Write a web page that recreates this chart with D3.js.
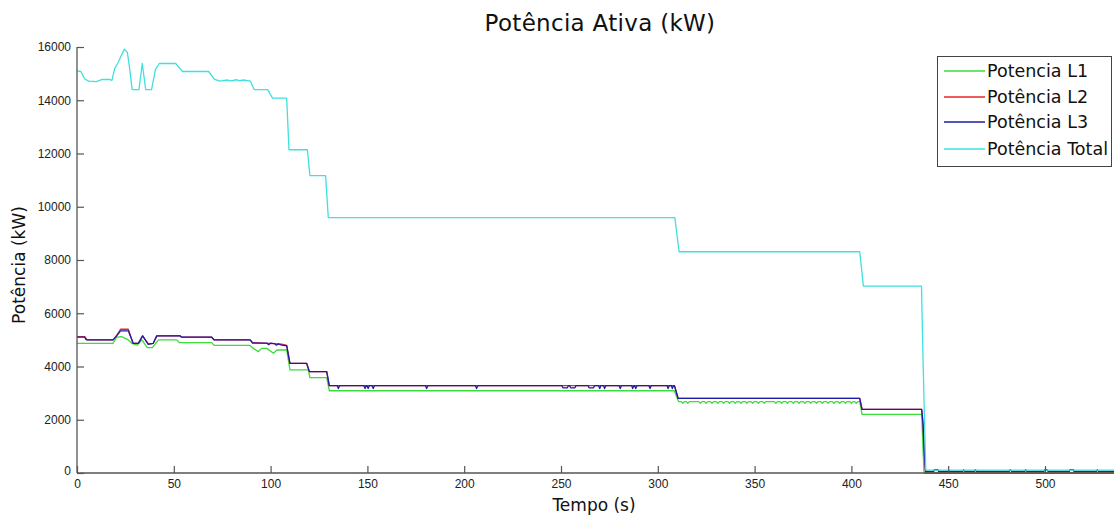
<!DOCTYPE html>
<html>
<head>
<meta charset="utf-8">
<script src="https://cdn.jsdelivr.net/npm/d3@7"></script>
<style>
  html, body { margin: 0; padding: 0; background: #fff; }
  svg { display: block; }
</style>
</head>
<body>
<svg id="chart" width="1114" height="516"></svg>
<script>
// ---------------- DATA (time s, power kW) ----------------
const xTicks = [0, 50, 100, 150, 200, 250, 300, 350, 400, 450, 500];
const yTicks = [0, 2000, 4000, 6000, 8000, 10000, 12000, 14000, 16000];
const seriesNames = ["Potencia L1", "Potência L2", "Potência L3", "Potência Total"];

const potTotal = [
  [0,15100],[2,15080],[4,14800],[6,14720],[10,14700],[13,14780],[17,14780],[18,14740],
  [19.5,15200],[21,15380],[23,15700],[24.5,15920],[26,15800],[27,15300],[28.5,14400],[32,14400],
  [33.7,15380],[35.5,14400],[38.5,14400],[40.5,15150],[42.5,15380],[51,15380],[54.5,15080],[68,15080],
  [71,14780],[74,14720],[77,14760],[80,14730],[82,14770],[84,14740],[86,14760],[89.5,14720],
  [91.5,14400],[98.5,14400],[101,14080],[108.3,14080],[109.5,12140],[119,12140],[120.3,11170],[128.4,11170],
  [129.8,9590],[308.8,9590],[311,8310],[404.3,8310],[406.2,7020],[436.2,7020],[437,4250],[438.4,110],
  [470,110],[536,110]
];

const potL3 = [
  [0,5100],[4,5100],[4.6,5020],[5.2,5000],[18.6,5000],[20.5,5150],[22.5,5340],[26.5,5340],[29,4870],[31.7,4870],
  [33.9,5150],[36.8,4830],[39.4,4870],[41.2,5150],[53.2,5150],[54.1,5100],[69.6,5100],[70.8,5000],[89.4,5000],
  [90.7,4880],[98,4880],[99,4820],[100,4880],[102,4860],[103,4800],[104,4850],[105.7,4800],[108.3,4780],
  [110,4120],[118.6,4120],[120,3810],[129,3810],[130.3,3280],
  [134.4,3280],[135,3170],[135.6,3280],
  [148.2,3280],[148.8,3170],[149.4,3280],[149.8,3280],[150.4,3170],[151,3280],[152.4,3280],[153,3170],[153.6,3280],
  [180,3280],[180.6,3170],[181.2,3280],
  [205.8,3280],[206.4,3170],[207,3280],
  [250.5,3280],[251,3200],[253.3,3200],[253.8,3280],[254.4,3280],[255,3200],[257.2,3200],[257.7,3280],
  [264,3280],[264.5,3200],[266.8,3200],[267.3,3280],
  [269.4,3280],[270,3170],[270.6,3280],[272,3280],[272.5,3170],[273.1,3280],
  [280,3280],[280.6,3170],[281.2,3280],
  [286.5,3280],[287,3170],[287.6,3280],[288,3280],[288.6,3170],[289.2,3280],
  [295.4,3280],[296,3170],[296.6,3280],
  [304.8,3280],[305.3,3170],[305.9,3280],[307,3280],[307.5,3170],[308.1,3280],[308.6,3280],
  [310.5,2800],[404.3,2800],[405.5,2390],[436.3,2390],[437,1850],[437.6,800],[438.3,60],
  [442.5,60],[443,130],[444.6,130],[445,60],[457.5,60],[458,120],[458.6,60],[463.5,60],[464,120],[464.6,60],
  [481.5,60],[482,120],[482.8,60],[489.5,60],[490,120],[490.6,60],[499.4,60],[500,130],[501,130],[501.6,60],
  [512.5,60],[513,130],[514.6,130],[515,60],[526.5,60],[527,120],[527.6,60],[538,60]
];

const potL2 = [
  [0,5120],[4,5120],[5.2,5000],[18.6,5000],[20.5,5170],[22.5,5400],[26.5,5400],[29,4870],[31.7,4870],
  [33.9,5150],[36.8,4850],[39.4,4870],[41.2,5150],[53.2,5160],[54.1,5100],[69.6,5100],[70.8,5000],[89.4,5000],
  [90.7,4900],[105.7,4840],[108.3,4790],[110,4120],[118.6,4120],[120,3810],[129,3810],[130.3,3280],
  [308.6,3280],[310.5,2800],[404.3,2800],[405.5,2390],[436.3,2390],[437,1850],[437.6,800],[438.3,0],[538,0]
];

const potL1 = [
  [0,4870],[18.6,4870],[20.5,5100],[23,5120],[26,5020],[28.3,4870],[31,4800],[33.5,5000],[36.3,4710],[38.9,4710],
  [42.1,5000],[51.5,5000],[52.9,4900],[69.6,4900],[70.8,4790],[89.4,4790],[91.1,4680],[93.7,4560],[95.4,4680],
  [98,4680],[101.5,4500],[103.2,4620],[108.3,4620],[110,3870],[119.5,3870],[120.3,3580],[129,3580],[130.3,3090],
  [308.5,3090],[310.8,2680],
  [312.2,2680],[313,2620],[313.8,2680],[314.7,2680],[315.5,2620],[316.3,2680],
  [321.2,2680],[322,2620],[322.8,2680],[324.2,2680],[325,2620],[325.8,2680],[327.2,2680],[328,2620],[328.8,2680],
  [330.2,2680],[331,2620],[331.8,2680],[333.2,2680],[334,2620],[334.8,2680],[336.2,2680],[337,2620],[337.8,2680],
  [339.2,2680],[340,2620],[340.8,2680],[342.2,2680],[343,2620],[343.8,2680],[345.2,2680],[346,2620],[346.8,2680],
  [348.2,2680],[349,2620],[349.8,2680],[351.2,2680],[352,2620],[352.8,2680],[354.2,2680],[355,2620],[355.8,2680],
  [360.2,2680],[361,2620],[361.8,2680],[363.2,2680],[364,2620],[364.8,2680],[366.2,2680],[367,2620],[367.8,2680],
  [369.2,2680],[370,2620],[370.8,2680],[372.2,2680],[373,2620],[373.8,2680],[375.2,2680],[376,2620],[376.8,2680],
  [378.2,2680],[379,2620],[379.8,2680],[381.2,2680],[382,2620],[382.8,2680],[384.2,2680],[385,2620],[385.8,2680],
  [387.2,2680],[388,2620],[388.8,2680],[390.2,2680],[391,2620],[391.8,2680],[393.2,2680],[394,2620],[394.8,2680],
  [396.2,2680],[397,2620],[397.8,2680],[399.2,2680],[400,2620],[400.8,2680],[401.7,2680],[402.5,2620],[403.3,2680],
  [404.3,2680],[405.5,2200],[436.3,2200],[437.5,0],[538,0]
];

// ---------------- CHART ----------------
const svg = d3.select("#chart");
const W = 1114, H = 516;
const margin = { left: 77, top: 47, bottom: 43 };
const pxPerSec = (1045 - 77) / 500;

const x = d3.scaleLinear().domain([0, 536]).range([margin.left, margin.left + 536 * pxPerSec]);
const y = d3.scaleLinear().domain([0, 16000]).range([H - margin.bottom, margin.top]);

svg.append("defs").append("clipPath").attr("id", "plotClip")
  .append("rect").attr("x", margin.left).attr("y", margin.top - 10)
  .attr("width", W - margin.left).attr("height", H - margin.bottom - margin.top + 12);

const colors = ["#3ddc3d", "#e8262a", "#1c1ca8", "#3fe0e0"];
const allSeries = [potL1, potL2, potL3, potTotal];

const line = d3.line().x(d => x(d[0])).y(d => y(d[1]));
const plot = svg.append("g").attr("clip-path", "url(#plotClip)");
allSeries.forEach((s, i) => {
  plot.append("path").datum(s)
    .attr("d", line)
    .attr("fill", "none")
    .attr("stroke", colors[i])
    .attr("stroke-width", 1.3)
    .attr("stroke-linejoin", "round");
});

// Axes
const axisColor = "#555";
const xAxis = d3.axisBottom(x).tickValues(xTicks).tickFormat(d3.format("d"))
  .tickSizeInner(-7).tickSizeOuter(0).tickPadding(6);
const gx = svg.append("g").attr("transform", `translate(0,${y(0)})`).call(xAxis);
const yAxis = d3.axisLeft(y).tickValues(yTicks).tickFormat(d3.format("d"))
  .tickSizeInner(-7).tickSizeOuter(0).tickPadding(5);
const gy = svg.append("g").attr("transform", `translate(${x(0)},0)`).call(yAxis);

[gx, gy].forEach(g => {
  g.select(".domain").attr("stroke", axisColor).attr("stroke-width", 1.3);
  g.selectAll(".tick line").attr("stroke", axisColor).attr("stroke-width", 1.2);
  g.selectAll(".tick text").attr("fill", "#222")
    .style("font-family", "'Liberation Sans', Arial, sans-serif").style("font-size", "12px");
});
gy.selectAll(".tick text").attr("dx", "-1");
gy.selectAll(".tick").filter(d => d === 0).select("text").attr("dy", "0.1em");
gx.select(".domain").attr("d", `M${x(0)},0H${W + 5}`);
gy.select(".domain").attr("d", `M0,${y(0)}V${y(16000)}`);

// Title and labels
svg.append("text").attr("x", 600).attr("y", 31).attr("text-anchor", "middle")
  .style("font-family", "'DejaVu Sans', Verdana, sans-serif").style("font-size", "23px")
  .style("letter-spacing", "0.3px")
  .attr("fill", "#111").text("Potência Ativa (kW)");

svg.append("text").attr("x", 594).attr("y", 511).attr("text-anchor", "middle")
  .style("font-family", "'DejaVu Sans', Verdana, sans-serif").style("font-size", "17px")
  .attr("fill", "#111").text("Tempo (s)");

svg.append("text").attr("transform", "translate(25,265) rotate(-90)").attr("text-anchor", "middle")
  .style("font-family", "'DejaVu Sans', Verdana, sans-serif").style("font-size", "17px")
  .attr("fill", "#111").text("Potência (kW)");

// Legend
const lg = svg.append("g");
lg.append("rect").attr("x", 937.5).attr("y", 56.5).attr("width", 174).attr("height", 110)
  .attr("fill", "#fff").attr("stroke", "#444").attr("stroke-width", 1);
const legendY = [71, 97, 122, 149];
seriesNames.forEach((name, i) => {
  lg.append("line").attr("x1", 944).attr("x2", 985).attr("y1", legendY[i]).attr("y2", legendY[i])
    .attr("stroke", colors[i]).attr("stroke-width", 1.3);
  lg.append("text").attr("x", 987).attr("y", legendY[i] + 6)
    .style("font-family", "'DejaVu Sans', Verdana, sans-serif").style("font-size", "17.5px")
    .attr("fill", "#111").text(name);
});
</script>
</body>
</html>
